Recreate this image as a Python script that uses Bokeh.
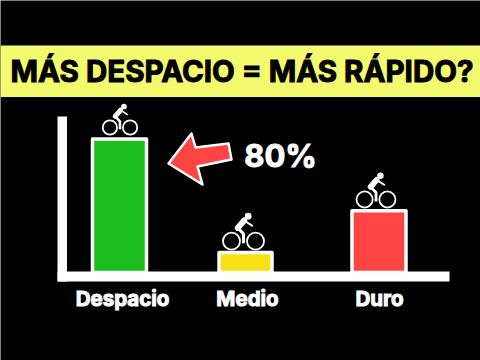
from bokeh.plotting import figure
from bokeh.models import Range1d
from bokeh.core.properties import value
from bokeh.embed import file_html
from bokeh.resources import INLINE

title = "MÁS DESPACIO = MÁS RÁPIDO?"
categories = ["Despacio", "Medio", "Duro"]
effort_values = [80, 12, 37]
bar_colors = ["#1CBE1E", "#F7E015", "#FF4444"]
callout = "80%"

# layout, in the reference picture's pixels
BAR_X = [119, 245, 378.5]
BAR_W = [54, 53, 54]
LABEL_X = [122, 247, 379]
BASE_PY = 272
PX_PER_UNIT = 1.669
RIDER = [(119.5, 127, 0.84), (243, 240.7, 1.0), (375.5, 199, 0.95)]
FONT = value("Inter")


def yv(py):
    return (BASE_PY - py) / PX_PER_UNIT


p = figure(width=480, height=360, output_backend="svg", toolbar_location=None,
           x_range=Range1d(0, 480), y_range=Range1d(yv(360), yv(0)),
           x_axis_location=None, y_axis_location=None, min_border=0, tools="")
p.background_fill_color = "#000000"
p.border_fill_color = "#000000"
p.outline_line_color = None
p.grid.visible = False

# title band
p.quad(left=[0], right=[480], top=[yv(45)], bottom=[yv(96.5)],
       fill_color="#F4FA6E", line_color=None)
p.text(x=[241.5], y=[yv(70.5)], text=[title], text_font=FONT, text_font_style="bold",
       text_font_size="29.5px", text_color="#000000", text_align="center", text_baseline="middle",
       text_outline_color="#000000")

# bars
p.vbar(x=BAR_X, width=BAR_W, bottom=0, top=effort_values, fill_color=bar_colors,
       line_color="#FFFFFF", line_width=3.5, line_join="round")

# axes
p.quad(left=[57], right=[66.5], top=[yv(116)], bottom=[yv(281)], fill_color="#FFFFFF", line_color=None)
p.quad(left=[57], right=[449], top=[yv(271)], bottom=[yv(281)], fill_color="#FFFFFF", line_color=None)

# category labels
p.text(x=LABEL_X, y=[yv(298)] * 3, text=categories, text_font=FONT, text_font_style="bold",
       text_font_size="20.5px", text_color="#FFFFFF", text_align="center", text_baseline="middle",
       text_outline_color="#FFFFFF")

# arrow
arrow_px = [(168, 163), (191, 133), (195, 147), (228, 143), (231, 159), (197, 166), (202, 184)]
p.patch([a for a, _ in arrow_px], [yv(b) for _, b in arrow_px], fill_color="#FF4444",
        line_color="#FFFFFF", line_width=2.5, line_join="round")
p.text(x=[280], y=[yv(155)], text=[callout], text_font=FONT, text_font_style="bold",
       text_font_size="31px", text_color="#FFFFFF", text_align="center", text_baseline="middle",
       text_outline_color="#FFFFFF")

# riders
for cx, cy, s in RIDER:
    for dx in (-12, 12):
        p.circle(x=[cx + dx * s], y=[yv(cy)], radius=8.5 * s, radius_units="screen",
                 fill_color=None, line_color="#FFFFFF", line_width=1.8)
    p.circle(x=[cx + 4.7 * s], y=[yv(cy - 25 * s)], radius=3.4 * s, radius_units="screen",
             fill_color="#FFFFFF", line_color=None)
    p.line([cx - 5.7 * s, cx + 0.7 * s], [yv(cy - 13.3 * s), yv(cy - 20.7 * s)],
           line_color="#FFFFFF", line_width=6 * s, line_cap="round")
    p.line([cx + 0.7 * s, cx + 9.3 * s], [yv(cy - 20.7 * s), yv(cy - 15 * s)],
           line_color="#FFFFFF", line_width=2 * s)
    p.line([cx - 5.7 * s, cx, cx], [yv(cy - 13.3 * s), yv(cy - 7.3 * s), yv(cy + 2 * s)],
           line_color="#FFFFFF", line_width=3 * s)

open("out.html", "w").write(file_html(p, INLINE))
